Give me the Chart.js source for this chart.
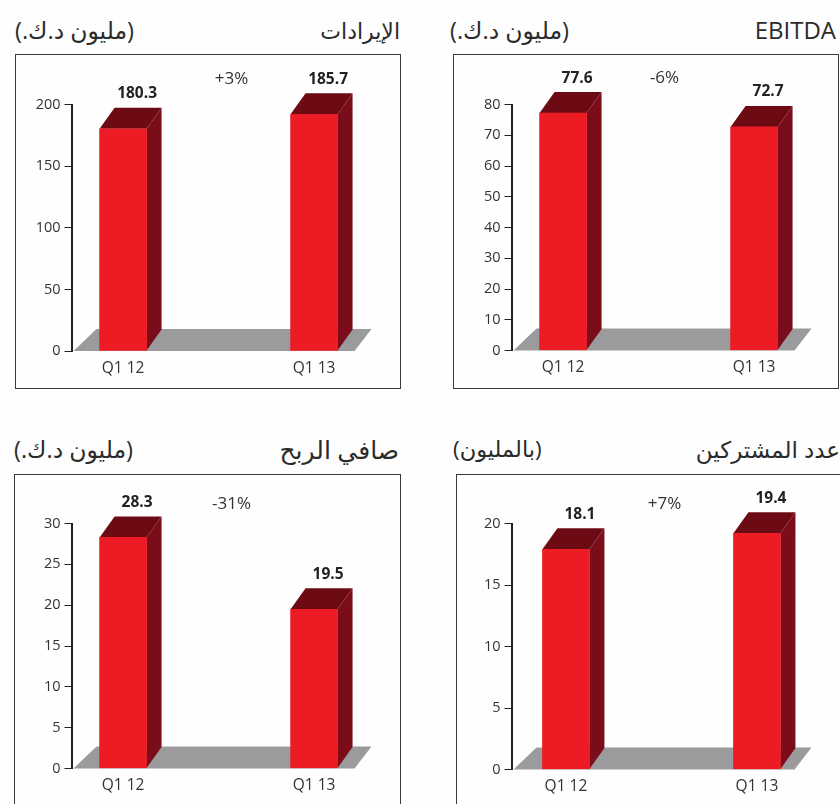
<!DOCTYPE html>
<html lang="ar">
<head>
<meta charset="utf-8">
<script src="https://cdn.jsdelivr.net/npm/chart.js@4"></script>
<style>
  html, body { margin: 0; padding: 0; background: #fefefe; }
  body { position: relative; width: 840px; height: 804px; overflow: hidden; font-family: "Open Sans", "DejaVu Sans", sans-serif; }
  .frame { position: absolute; box-sizing: border-box; border: 1.5px solid #3a3a3a; }
  canvas { position: absolute; left: 0; top: 0; }
  .head { position: absolute; color: #2b2b2b; white-space: nowrap; line-height: 26px; }
</style>
</head>
<body>
<script>
const categories = ["Q1 12", "Q1 13"];

// bar heights are read off each axis, printed labels are kept apart
// (the second revenue bar is drawn taller than its 185.7 label)
const revenueBars = [180.3, 192];
const revenueLabels = ["180.3", "185.7"];
const revenueTicks = [0, 50, 100, 150, 200];

const ebitdaBars = [77.2, 72.7];
const ebitdaLabels = ["77.6", "72.7"];
const ebitdaTicks = [0, 10, 20, 30, 40, 50, 60, 70, 80];

const profitBars = [28.3, 19.5];
const profitLabels = ["28.3", "19.5"];
const profitTicks = [0, 5, 10, 15, 20, 25, 30];

const subsBars = [17.9, 19.2];
const subsLabels = ["18.1", "19.4"];
const subsTicks = [0, 5, 10, 15, 20];

const charts = [
  { bars: revenueBars, labels: revenueLabels, ticks: revenueTicks, change: "+3%",
    title: "الإيرادات", unit: "(مليون د.ك.)", titleSize: 22, unitSize: 23.5,
    left: 15, top: 54, width: 386, height: 335, axisX: 72, yTop: 105, yBase: 351.5, xMin: -0.27,
    changeX: 232, changeY: 80, titleRight: 400, unitLeft: 15, headY: 17 },
  { bars: ebitdaBars, labels: ebitdaLabels, ticks: ebitdaTicks, change: "-6%",
    title: "EBITDA", unit: "(مليون د.ك.)", titleSize: 24, unitSize: 23.5,
    left: 453, top: 54, width: 386, height: 335, axisX: 512, yTop: 105, yBase: 351, xMin: -0.27,
    changeX: 665, changeY: 79, titleRight: 836, unitLeft: 450, headY: 17 },
  { bars: profitBars, labels: profitLabels, ticks: profitTicks, change: "-31%",
    title: "صافي الربح", unit: "(مليون د.ك.)", titleSize: 25, unitSize: 23.5,
    left: 14, top: 474, width: 387, height: 345, axisX: 72, yTop: 524, yBase: 769, xMin: -0.27,
    changeX: 232, changeY: 505, titleRight: 399, unitLeft: 14, headY: 436 },
  { bars: subsBars, labels: subsLabels, ticks: subsTicks, change: "+7%",
    title: "عدد المشتركين", unit: "(بالمليون)", titleSize: 23, unitSize: 22.5,
    left: 456, top: 474, width: 400, height: 345, axisX: 512, yTop: 524, yBase: 770, xMin: -0.285,
    changeX: 665, changeY: 505, titleRight: 840, unitLeft: 453, headY: 436 }
];

const DEPTH_X = 15;
const DEPTH_Y = 21;

// Floor, bar sides and text around the bars
const fake3d = {
  id: "fake3d",
  beforeDatasetsDraw(chart, args, opts) {
    const { ctx, chartArea } = chart;
    const base = chart.scales.y.getPixelForValue(0);
    ctx.save();
    ctx.fillStyle = "#9b9b9d";
    ctx.beginPath();
    ctx.moveTo(chartArea.left + 2, base);
    ctx.lineTo(chartArea.left + 25, base - 22);
    ctx.lineTo(chartArea.right, base - 22);
    ctx.lineTo(chartArea.right - 17, base);
    ctx.closePath();
    ctx.fill();

    chart.getDatasetMeta(0).data.forEach(bar => {
      const r = bar.x + bar.width / 2;
      const l = bar.x - bar.width / 2;
      ctx.fillStyle = "#7a0d19";
      ctx.beginPath();
      ctx.moveTo(r, bar.y);
      ctx.lineTo(r + DEPTH_X, bar.y - DEPTH_Y);
      ctx.lineTo(r + DEPTH_X, bar.base - DEPTH_Y);
      ctx.lineTo(r, bar.base);
      ctx.closePath();
      ctx.fill();
      ctx.fillStyle = "#6d0b15";
      ctx.beginPath();
      ctx.moveTo(l, bar.y);
      ctx.lineTo(l + DEPTH_X, bar.y - DEPTH_Y);
      ctx.lineTo(r + DEPTH_X, bar.y - DEPTH_Y);
      ctx.lineTo(r, bar.y);
      ctx.closePath();
      ctx.fill();
    });
    ctx.restore();
  },
  afterDatasetsDraw(chart, args, opts) {
    const { ctx } = chart;
    ctx.save();
    ctx.textAlign = "center";
    ctx.textBaseline = "middle";
    ctx.fillStyle = "#222";
    ctx.font = "bold 15.5px 'Open Sans'";
    chart.getDatasetMeta(0).data.forEach((bar, i) => {
      ctx.fillText(opts.labels[i], bar.x + 14, bar.y - DEPTH_Y - 14);
    });
    ctx.font = "17px 'Open Sans'";
    ctx.fillStyle = "#333";
    ctx.fillText(opts.change, opts.changeX, opts.changeY);
    ctx.restore();
  }
};

charts.forEach(c => {
  const frame = document.createElement("div");
  frame.className = "frame";
  frame.style.cssText = `left:${c.left}px;top:${c.top}px;width:${c.width}px;height:${c.height}px`;
  const canvas = document.createElement("canvas");
  frame.appendChild(canvas);
  document.body.appendChild(frame);

  const title = document.createElement("div");
  title.className = "head";
  title.textContent = c.title;
  title.style.cssText = `right:${840 - c.titleRight}px;top:${c.headY}px;font-size:${c.titleSize}px`;
  document.body.appendChild(title);

  const unit = document.createElement("div");
  unit.className = "head";
  unit.dir = "rtl";
  unit.textContent = c.unit;
  unit.style.cssText = `left:${c.unitLeft}px;top:${c.headY}px;font-size:${c.unitSize}px`;
  document.body.appendChild(unit);

  // the frame border is 1.5px, canvas origin sits inside it
  const ox = c.left + 1.5;
  const oy = c.top + 1.5;
  canvas.width = c.width - 3;
  canvas.height = c.height - 3;

  new Chart(canvas, {
    type: "bar",
    data: {
      datasets: [{
        data: c.bars.map((v, i) => ({ x: i, y: v })),
        backgroundColor: "#ed1c24",
        borderWidth: 0,
        barThickness: 47
      }]
    },
    options: {
      responsive: false,
      animation: false,
      layout: { padding: { top: c.yTop - oy, right: ox + c.width - 3 - (c.axisX + 300), left: 0, bottom: 0 } },
      plugins: {
        legend: { display: false },
        tooltip: { enabled: false },
        fake3d: {
          labels: c.labels,
          change: c.change,
          changeX: c.changeX - ox,
          changeY: c.changeY - oy
        }
      },
      scales: {
        x: {
          type: "linear",
          offset: false,
          min: c.xMin,
          max: c.xMin + 300 / 191,
          grid: { display: false },
          border: { display: false },
          afterBuildTicks: s => { s.ticks = categories.map((_, i) => ({ value: i })); },
          afterFit: s => { s.height = oy + c.height - 3 - c.yBase; },
          ticks: {
            padding: 0,
            autoSkip: false,
            maxRotation: 0,
            color: "#333",
            font: { family: "Open Sans", size: 15.5 },
            callback: v => categories[v]
          }
        },
        y: {
          min: c.ticks[0],
          max: c.ticks[c.ticks.length - 1],
          afterBuildTicks: s => { s.ticks = c.ticks.map(v => ({ value: v })); },
          afterFit: s => { s.width = c.axisX - ox; },
          grid: { drawOnChartArea: false, drawTicks: true, tickLength: 7, color: "#222", lineWidth: 1 },
          border: { display: true, color: "#222", width: 2 },
          ticks: {
            padding: 4,
            color: "#333",
            font: { family: "Open Sans", size: 14.5 }
          }
        }
      }
    },
    plugins: [fake3d]
  });
});
</script>
</body>
</html>
